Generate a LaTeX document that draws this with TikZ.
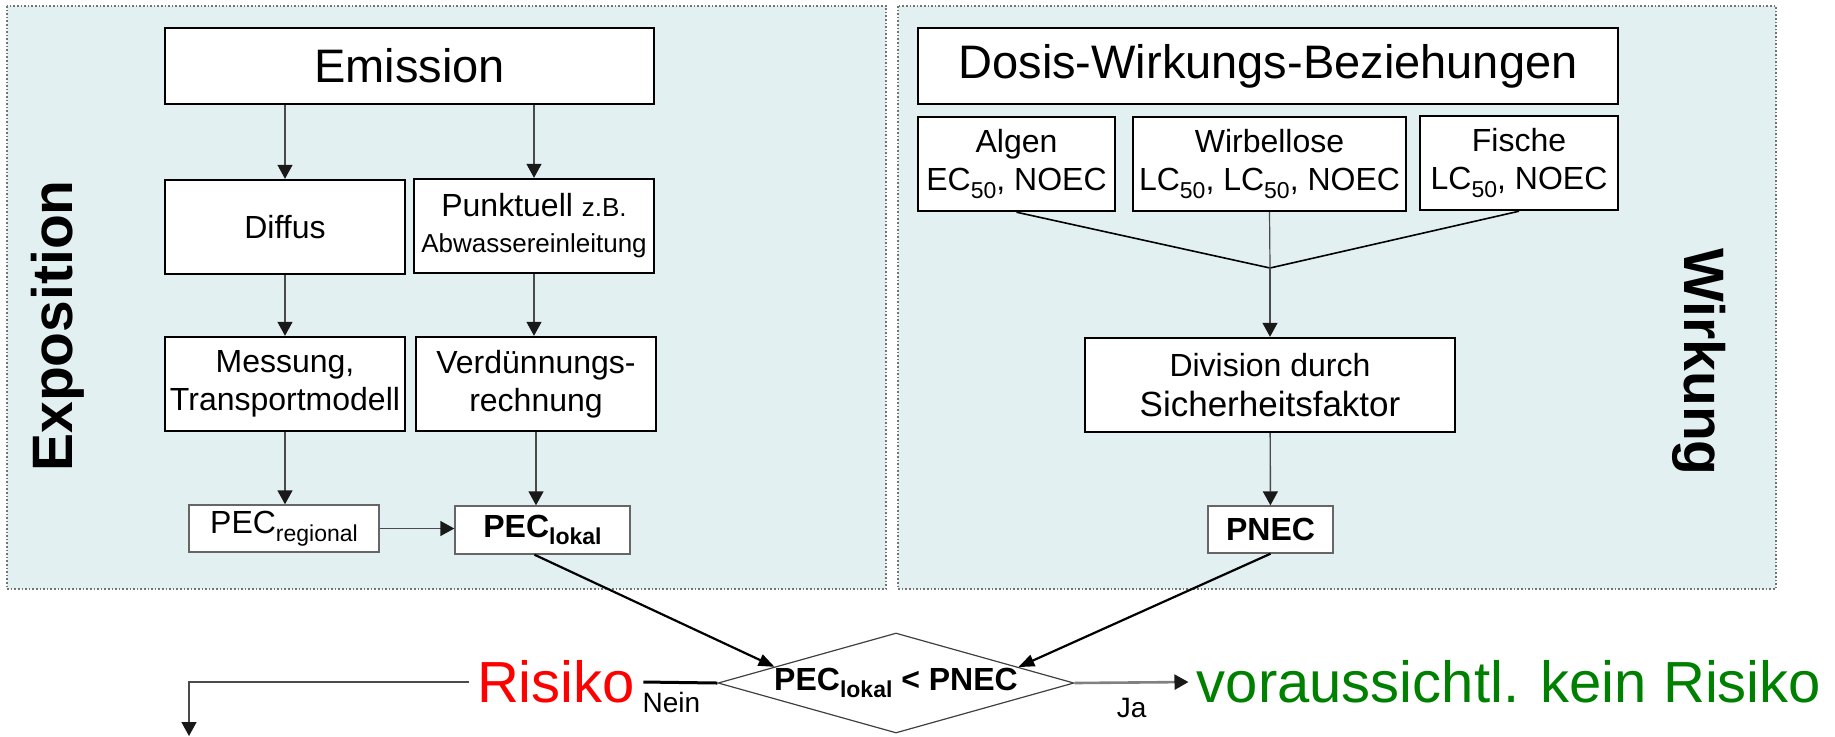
\documentclass[tikz,border=0pt]{standalone}
\usepackage{fontspec}
\setmainfont{Liberation Sans}
\usetikzlibrary{arrows.meta,shapes.geometric,calc}

\definecolor{panelfill}{HTML}{E2F0F1}
\definecolor{linegray}{HTML}{4A4A4A}
\definecolor{okgreen}{HTML}{008000}
\newcommand{\lowsub}[1]{\raisebox{-3.8pt}{\fontsize{11.5}{13}\selectfont #1}}

\begin{document}
\begin{tikzpicture}[x=0.5pt, y=-0.5pt,
    box/.style={draw, line width=1.2pt, fill=white, align=center, inner sep=0pt,
      font=\fontsize{16}{19}\selectfont},
    pecbox/.style={draw=black!60, line width=0.7pt, fill=white, inner sep=0pt,
      font=\fontsize{16}{19}\selectfont},
    headbox/.style={box, minimum height=38pt, font=\fontsize{23.5}{28}\selectfont},
    panel/.style={fill=panelfill, draw=black!55, densely dotted, line width=0.8pt},
    side/.style={font=\bfseries\fontsize{28.5}{34}\selectfont},
    arr/.style={-{Triangle[width=7.5pt,length=7pt,color=black!90]}, linegray, line width=0.7pt},
    bigarr/.style={-{Triangle[width=6pt,length=8pt]}, black, line width=1.1pt},
    decision/.style={diamond, draw=black!75, line width=0.6pt, fill=white, aspect=3.5,
      minimum width=178pt, minimum height=50pt, inner sep=0pt,
      font=\bfseries\fontsize{16}{19}\selectfont},
    result/.style={inner xsep=4pt, inner ysep=0pt, font=\fontsize{29}{35}\selectfont}
  ]
  \useasboundingbox (0,0) rectangle (1835,736);

  % the two panels
  \draw[panel] (7,6) rectangle (886,589);
  \draw[panel] (898,6) rectangle (1776,589);
  \node[side, rotate=90] (expo) at (58,326) {Exposition};
  \node[side, rotate=-90] (wirk) at (1699,362) {Wirkung};

  % Exposition
  \node[headbox, minimum width=244.5pt] (emission) at (409.5,66) {Emission};
  \node[box, minimum width=120pt, minimum height=47pt] (diffus) at (285,227) {Diffus};
  \node[box, minimum width=120pt, minimum height=47pt] (punkt) at (534,226)
    {Punktuell {\fontsize{13}{16}\selectfont z.B.}\\[-1pt]{\fontsize{13}{16}\selectfont Abwassereinleitung}};
  \node[box, minimum width=120pt, minimum height=47pt] (messung) at (285,384)
    {Messung,\\Transportmodell};
  \node[box, minimum width=120pt, minimum height=47pt] (verd) at (536,384)
    {Verdünnungs-\\rechnung};
  \node[pecbox, minimum width=95pt, minimum height=23.5pt] (pecreg) at (284,528.5)
    {PEC\lowsub{regional}};
  \node[pecbox, minimum width=87.5pt, minimum height=24pt] (peclok) at (542.5,530)
    {\textbf{PEC\lowsub{lokal}}};

  \draw[arr] (emission.south -| diffus.north) -- (diffus.north);
  \draw[arr] (emission.south -| punkt.north) -- (punkt.north);
  \draw[arr] (diffus) -- (messung);
  \draw[arr] (punkt.south) -- (punkt.south |- verd.north);
  \draw[arr] (messung.south) -- (messung.south |- pecreg.north);
  \draw[arr] (verd.south) -- (verd.south |- peclok.north);
  \draw[arr] (pecreg.east) -- (pecreg.east -| peclok.west);

  % Wirkung
  \node[headbox, minimum width=350pt] (dosis) at (1268,66) {Dosis-Wirkungs-Beziehungen};
  \node[box, minimum width=98.5pt, minimum height=47pt] (algen) at (1016.5,164)
    {Algen\\EC\lowsub{50}, NOEC};
  \node[box, minimum width=136.5pt, minimum height=47pt] (wirb) at (1269.5,164)
    {Wirbellose\\LC\lowsub{50}, LC\lowsub{50}, NOEC};
  \node[box, minimum width=99pt, minimum height=47pt] (fische) at (1519,163)
    {Fische\\LC\lowsub{50}, NOEC};
  \coordinate (merge) at (1270,268);
  \node[box, minimum width=185pt, minimum height=47pt] (division) at (1270,385)
    {Division durch\\[1pt]{\fontsize{17.5}{21}\selectfont Sicherheitsfaktor}};
  \node[pecbox, minimum width=62.5pt, minimum height=23.5pt] (pnec) at (1270.5,529.5)
    {\textbf{PNEC}};

  \draw[black, line width=0.8pt] (algen.south) -- (merge) -- (fische.south);
  \draw[linegray, line width=0.6pt] (wirb.south) -- (merge);
  \draw[arr] (merge) -- (division.north);
  \draw[arr] (division) -- (pnec);

  % Vergleich
  \node[decision] (cmp) at (896,683) {\makebox[0pt]{PEC\lowsub{lokal} < PNEC}};
  \node[result, text=red] (risiko) at (556,682) {Risiko};
  \node[result, text=okgreen] (keinrisiko) at (1509,682) {voraussichtl. kein Risiko};
  \coordinate (drop) at (189,736);

  \draw[bigarr] ([xshift=-4pt]peclok.south) -- ($(cmp.west)!0.32!(cmp.north)$);
  \draw[bigarr] (pnec.south) -- ($(cmp.east)!0.315!(cmp.north)$);
  \draw[black, line width=1.5pt] (cmp.west) --
    node[below=3pt, pos=0.62, inner sep=1pt, font=\fontsize{14}{16}\selectfont] {Nein} (risiko.east);
  \draw[arr] (risiko.west) -| (drop);
  \draw[arr, black!50, line width=1.3pt] (cmp.east) --
    node[below=6pt, pos=0.5, inner sep=1pt, text=black, font=\fontsize{14}{16}\selectfont] {Ja} (keinrisiko.west);
\end{tikzpicture}
\end{document}
